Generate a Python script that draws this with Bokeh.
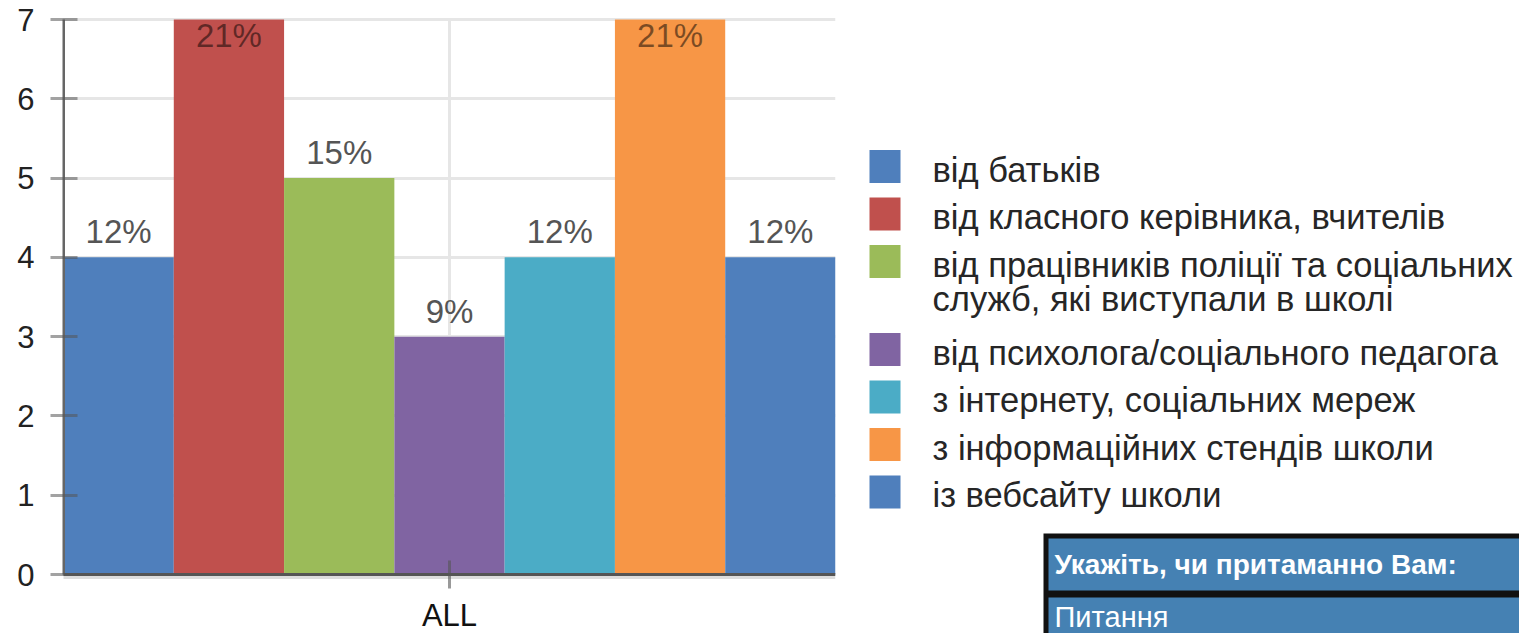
from bokeh.plotting import figure
from bokeh.models import ColumnDataSource, Range1d, FixedTicker, LabelSet, Label
from bokeh.layouts import row
from bokeh.embed import file_html
from bokeh.resources import INLINE
from bokeh.core.properties import value

# ---------------- data ----------------
group_label = "ALL"
categories = [
    "від батьків",
    "від класного керівника, вчителів",
    "від працівників поліції та соціальних\nслужб, які виступали в школі",
    "від психолога/соціального педагога",
    "з інтернету, соціальних мереж",
    "з інформаційних стендів школи",
    "із вебсайту школи",
]
counts = [4, 7, 5, 3, 4, 7, 4]
pct_labels = ["12%", "21%", "15%", "9%", "12%", "21%", "12%"]
colors = ["#4F7FBC", "#C0504D", "#9BBB59", "#8064A2", "#4BACC6", "#F79646", "#4F7FBC"]
y_ticks = [0, 1, 2, 3, 4, 5, 6, 7]
table_header = "Укажіть, чи притаманно Вам:"
table_row = "Питання"

FONT_NAME = "Liberation Sans"
FONT = value(FONT_NAME)
YMAX = 7
N = len(counts)

# ---------------- layout constants (pixels) ----------------
W1, H = 848, 633
PLOT_L, PLOT_R, PLOT_T, PLOT_B = 63, 835, 19, 574      # plotting area in pixels
FRAME_L = PLOT_L - 1
ppx = (PLOT_R - PLOT_L) / N          # pixels per x unit
ppy = (PLOT_B - PLOT_T) / YMAX       # pixels per y unit
x_start = -(PLOT_L - FRAME_L) / ppx
y_start = -(H - PLOT_B) / ppy
y_end = YMAX + PLOT_T / ppy

xs = [i + 0.5 for i in range(N)]
src = ColumnDataSource(dict(x=xs, top=counts, color=colors, label=pct_labels))
out_idx = [i for i, c in enumerate(counts) if c < YMAX]
in_idx = [i for i, c in enumerate(counts) if c >= YMAX]
src_out = ColumnDataSource(dict(x=[xs[i] for i in out_idx], y=[counts[i] for i in out_idx],
                                label=[pct_labels[i] for i in out_idx]))
src_in = ColumnDataSource(dict(x=[xs[i] for i in in_idx], y=[counts[i] for i in in_idx],
                               label=[pct_labels[i] for i in in_idx]))

# ---------------- chart ----------------
p = figure(width=W1, height=H, x_range=Range1d(x_start, N), y_range=Range1d(y_start, y_end),
           output_backend="svg", toolbar_location=None, x_axis_location=None,
           min_border_left=FRAME_L, min_border_right=W1 - PLOT_R, min_border_top=0, min_border_bottom=0)
p.outline_line_color = None
p.background_fill_color = "white"

p.xgrid.visible = False
p.ygrid.ticker = FixedTicker(ticks=y_ticks)
p.ygrid.grid_line_color = "#e6e6e6"
p.ygrid.grid_line_width = 3
mid = N / 2
# vertical grid line at the group tick (bounded to the value range)
p.segment(x0=[mid], y0=[0], x1=[mid], y1=[YMAX], line_color="#e6e6e6", line_width=3, level="underlay")
# faint shadow under the category axis
p.segment(x0=[0], y0=[-3 / ppy], x1=[N], y1=[-3 / ppy], line_color="#dddddd", line_width=3,
          level="underlay")

p.vbar(x="x", top="top", width=1, bottom=0, fill_color="color", line_color=None, source=src)

# value axis (ticks + labels from Bokeh, line drawn over the value span)
yax = p.yaxis[0]
yax.ticker = FixedTicker(ticks=y_ticks)
yax.axis_line_color = None
yax.major_tick_in = 15
yax.major_tick_out = 12
yax.major_tick_line_color = "#555555"
yax.major_tick_line_alpha = 0.55
yax.major_tick_line_width = 3
yax.minor_tick_line_color = None
yax.major_label_text_font = FONT_NAME
yax.major_label_text_font_size = "31px"
yax.major_label_text_color = "#222222"
yax.major_label_standoff = 16
p.segment(x0=[0], y0=[0], x1=[0], y1=[YMAX], line_color="#666666", line_width=3)

# category axis
p.segment(x0=[0], y0=[0], x1=[N], y1=[0], line_color="#555555", line_width=3)
tick = 14 / ppy
p.segment(x0=[mid], y0=[-tick], x1=[mid], y1=[tick], line_color="#555555", line_alpha=0.6,
          line_width=3)
p.add_layout(Label(x=mid, y=0, text=group_label, y_offset=-58, text_align="center",
                   text_baseline="bottom", text_font=FONT_NAME, text_font_size="31px",
                   text_color="#111111"))

p.add_layout(LabelSet(x="x", y="y", text="label", source=src_out, y_offset=14,
                      text_align="center", text_baseline="alphabetic",
                      text_font=FONT, text_font_size="33px", text_color="#555555"))
p.add_layout(LabelSet(x="x", y="y", text="label", source=src_in, y_offset=3,
                      text_align="center", text_baseline="top",
                      text_font=FONT, text_font_size="33px", text_color="black", text_alpha=0.5))

# ---------------- legend + table panel ----------------
W2 = 1519 - W1
q = figure(width=W2, height=H, x_range=Range1d(W1, W1 + W2), y_range=Range1d(H, 0),
           output_backend="svg", toolbar_location=None, min_border=0,
           x_axis_location=None, y_axis_location=None)
q.outline_line_color = None
q.grid.visible = False

row_y = []
y = 166.0
line_gap = 34.0
text_lines_x, text_lines_y, text_lines = [], [], []
for cat in categories:
    lines = cat.split("\n")
    row_y.append(y)
    for k, ln in enumerate(lines):
        text_lines.append(ln)
        text_lines_x.append(932)
        text_lines_y.append(y + 3 + k * line_gap)
    y += 47.5 + (len(lines) - 1) * 40.5

q.rect(x=[884.5] * len(categories), y=row_y, width=31, height=33,
       fill_color=colors, line_color=None)
q.text(x=text_lines_x, y=text_lines_y, text=text_lines, text_font=FONT,
       text_font_size="34.5px", text_color="#262626", text_baseline="middle", text_align="left")

# table fragment
q.quad(left=[1043], right=[1525], top=[533], bottom=[640], fill_color="#111111", line_color=None)
q.quad(left=[1048, 1048], right=[1525, 1525], top=[538, 597], bottom=[590, 640],
       fill_color="#4581B3", line_color=None)
q.text(x=[1054], y=[564], text=[table_header], text_font=FONT,
       text_font_style="bold", text_font_size="28px", text_color="white",
       text_baseline="middle", text_align="left")
q.text(x=[1054], y=[616], text=[table_row], text_font=FONT,
       text_font_size="29px", text_color="white",
       text_baseline="middle", text_align="left")

layout = row(p, q)
open("out.html", "w").write(file_html(layout, INLINE))
